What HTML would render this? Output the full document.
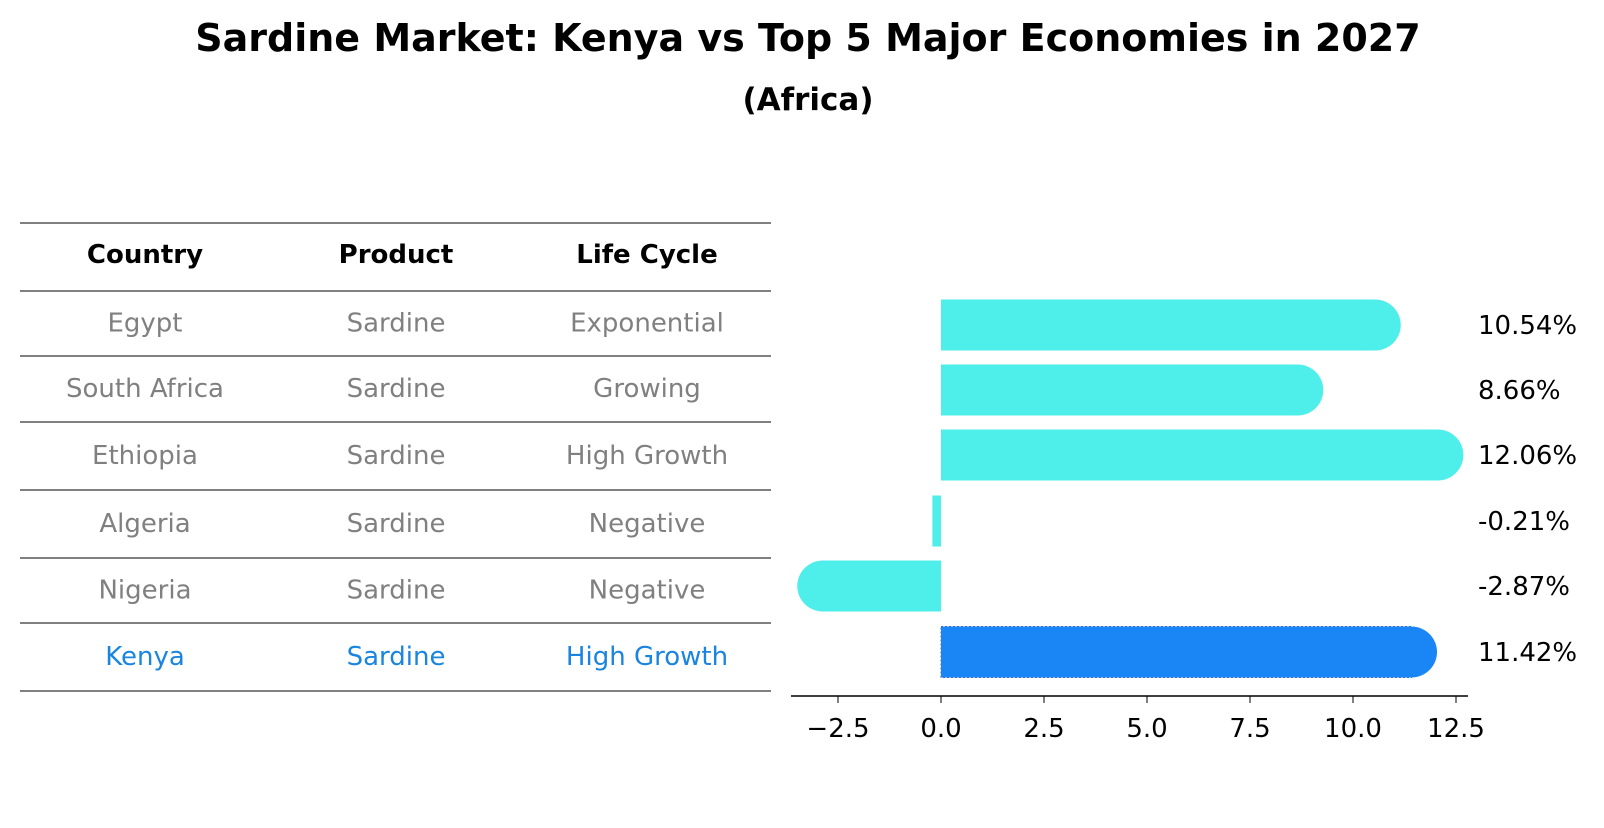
<!DOCTYPE html>
<html><head><meta charset="utf-8"><style>
body{margin:0;background:#fff;font-family:"Liberation Sans","DejaVu Sans",sans-serif;}
svg text{font-family:"DejaVu Sans","Liberation Sans",sans-serif;}
</style></head><body>
<svg width="1604" height="823" xmlns="http://www.w3.org/2000/svg">
<text x="808" y="51" text-anchor="middle" font-size="38" font-weight="bold">Sardine Market: Kenya vs Top 5 Major Economies in 2027</text>
<text x="808" y="110" text-anchor="middle" font-size="31" font-weight="bold">(Africa)</text>
<g id="table"></g>
<g id="bars"></g>
</svg>
<script>
const countries=["Egypt","South Africa","Ethiopia","Algeria","Nigeria","Kenya"];
const products=["Sardine","Sardine","Sardine","Sardine","Sardine","Sardine"];
const lifecycles=["Exponential","Growing","High Growth","Negative","Negative","High Growth"];
const values=[10.54,8.66,12.06,-0.21,-2.87,11.42];
const ticks=[-2.5,0,2.5,5,7.5,10,12.5];
const NS="http://www.w3.org/2000/svg";
function mk(t,a,p){const e=document.createElementNS(NS,t);for(const k in a)e.setAttribute(k,a[k]);p.appendChild(e);return e;}
const tbl=document.getElementById('table'),bars=document.getElementById('bars');
const lineYs=[223,291,356,422,490,558,623,691];
lineYs.forEach(y=>{const l=mk('line',{x1:20,x2:771,y1:y,y2:y,stroke:'#000','stroke-width':1,'shape-rendering':'crispEdges'},tbl);

});
const colX=[145,396,647];
["Country","Product","Life Cycle"].forEach((h,i)=>{const t=mk('text',{x:colX[i],y:263,'text-anchor':'middle','font-size':26,'font-weight':'bold'},tbl);t.textContent=h;

});
const rowY=i=>(lineYs[i+1]+lineYs[i+2])/2+8;
countries.forEach((c,i)=>{const col=i===5?'#1a85e0':'#808080';
[c,products[i],lifecycles[i]].forEach((v,j)=>{const t=mk('text',{x:colX[j],y:rowY(i),'text-anchor':'middle','font-size':26,fill:col},tbl);t.textContent=v;

});});
const x0=941,ppu=41.2;const X=v=>x0+v*ppu;
const centers=[325,390,455,521,586,652];const bh=51,r=25.5;
values.forEach((v,i)=>{const col=i===5?'#1a85f5':'#4eeeea';const cy=centers[i];
const xa=Math.min(X(0),X(v)),w=Math.abs(X(v)-X(0));
const g=mk('g',{},bars);


mk('rect',{x:xa,y:cy-bh/2,width:w,height:bh,fill:col,stroke:i===5?'#3a6fd0':'none','stroke-dasharray':'2,2','stroke-width':1},g);
if(Math.abs(v)>1)mk('circle',{cx:X(v),cy:cy,r:r,fill:col},g);
const t=mk('text',{x:1478,y:cy+9,'font-size':26},bars);t.textContent=v.toFixed(2)+'%';

});
const ax=mk('line',{x1:791,x2:1468,y1:696,y2:696,stroke:'#000','stroke-width':1.5},bars);


ticks.forEach(tv=>{mk('line',{x1:X(tv),x2:X(tv),y1:696,y2:703,stroke:'#000'},bars);
const t=mk('text',{x:X(tv),y:737,'text-anchor':'middle','font-size':26},bars);t.textContent=(tv<0?'\u2212':'')+Math.abs(tv).toFixed(1);

});
</script>
</body></html>
